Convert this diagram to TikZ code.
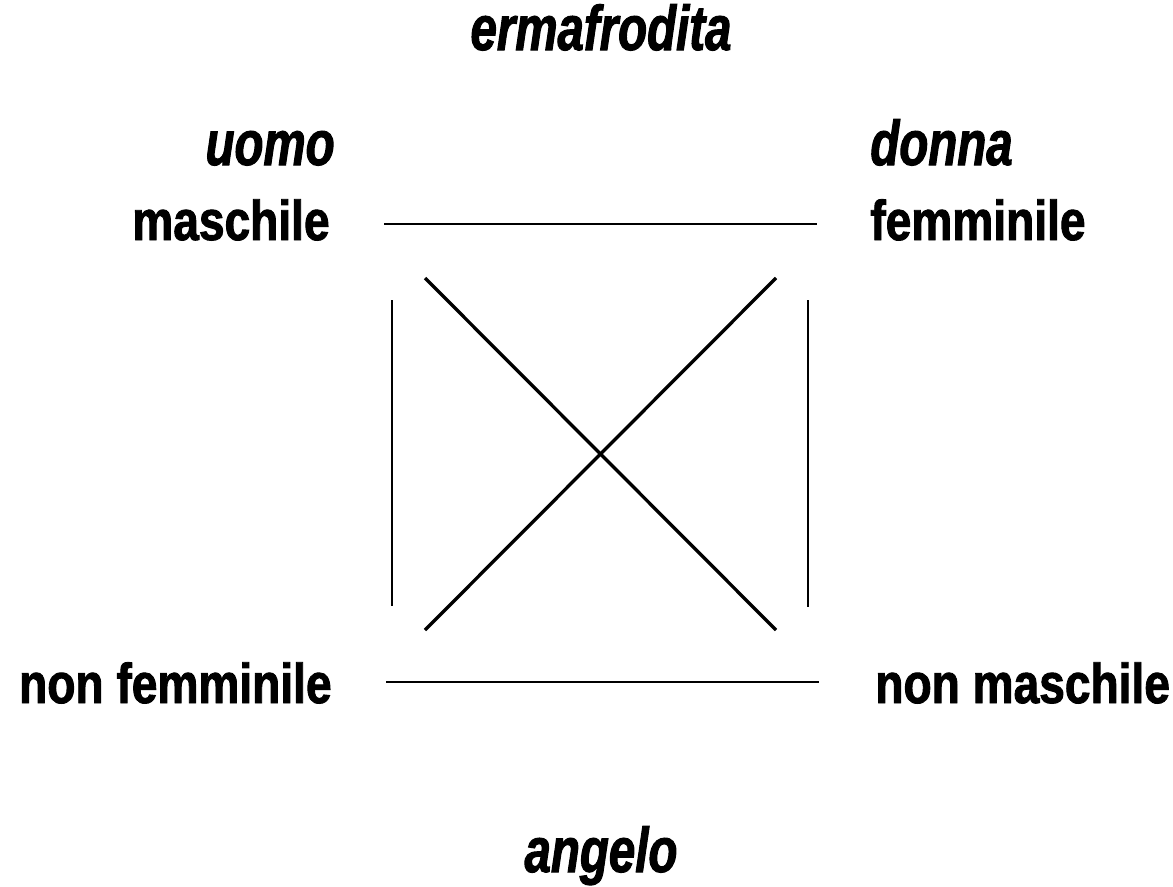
\documentclass[tikz,border=0pt]{standalone}
\usepackage{fontspec}
\setmainfont{Liberation Sans}[FakeStretch=0.82, FakeBold=1.6]
\newfontfamily\slantfont{Liberation Sans}[FakeStretch=0.75, FakeBold=1.6]
\usetikzlibrary{positioning}
\tikzset{
  every picture/.style={line cap=butt},
  term/.style={inner sep=0pt, font=\fontsize{32}{32}\selectfont\bfseries},
  role/.style={inner sep=0pt, font=\slantfont\fontsize{36}{36}\selectfont\bfseries\itshape},
  thin/.style={line width=1.1pt},
  cross/.style={line width=1.9pt},
}

\begin{document}
\begin{tikzpicture}[x=0.02cm, y=-0.02cm]
  \useasboundingbox (0,0) rectangle (1173,886);
  % terms of the square
  \node[term, anchor=base east] (masc) at (330,240) {maschile};
  \node[term, anchor=base west] (femm) at (870,240) {femminile};
  \node[term, anchor=base east] (nonfemm) at (332,703) {non femminile};
  \node[term, anchor=base west] (nonmasc) at (875,703) {non maschile};
  % what the terms add up to
  \node[role, anchor=base] (erma) at (601,50) {ermafrodita};
  \node[role, anchor=base east] (uomo) at (335,165) {uomo};
  \node[role, anchor=base west] (donna) at (870,165) {donna};
  \node[role, anchor=base] (angelo) at (601,872) {angelo};
  % line ends
  \coordinate (tl) at (384,224); \coordinate (tr) at (817,224);
  \coordinate (bl) at (386,682); \coordinate (br) at (819,682);
  \coordinate (lt) at (392,300); \coordinate (lb) at (392,606);
  \coordinate (rt) at (808,300); \coordinate (rb) at (808,607);
  \coordinate (dtl) at (425,278); \coordinate (dbr) at (776,630);
  \coordinate (dtr) at (776,278); \coordinate (dbl) at (425,630);
  \draw[thin] (tl) -- (tr);
  \draw[thin] (bl) -- (br);
  \draw[thin] (lt) -- (lb);
  \draw[thin] (rt) -- (rb);
  \draw[cross] (dtl) -- (dbr);
  \draw[cross] (dtr) -- (dbl);
\end{tikzpicture}
\end{document}
